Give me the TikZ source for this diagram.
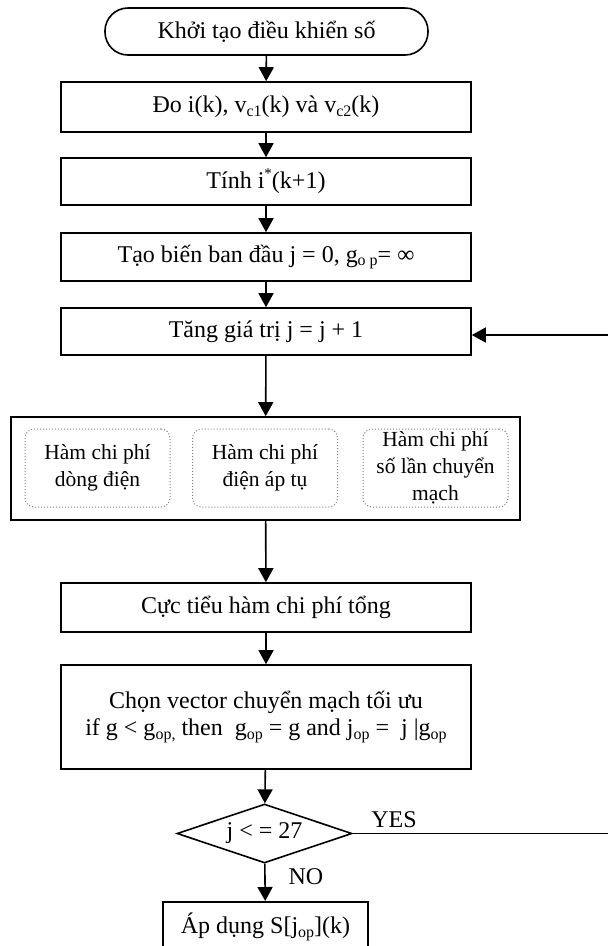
\documentclass[tikz,border=0pt]{standalone}
\usepackage{fontspec}
\setmainfont{Liberation Serif}
\usetikzlibrary{arrows.meta,shapes.geometric}
\newcommand{\mysub}[1]{\raisebox{-0.3ex}{\fontsize{16}{16}\selectfont #1}}
\newcommand{\mysup}[1]{\raisebox{0.9ex}{\fontsize{15}{15}\selectfont #1}}
\tikzset{
  every node/.style={font=\fontsize{24}{27}\selectfont, inner sep=0pt, align=center},
  procbox/.style={draw, line width=1.6pt, rectangle, minimum width=410pt},
  termbox/.style={draw, line width=1.6pt, rectangle, rounded corners=23pt, minimum width=323pt, minimum height=47pt},
  dotbox/.style={draw, gray, dotted, line width=1pt, rounded corners=9pt, minimum width=145pt, minimum height=78pt, text=black, font=\fontsize{21.5}{27}\selectfont},
  decbox/.style={draw, line width=1.6pt, diamond, aspect=2.97, minimum width=175pt, minimum height=59pt},
  flow/.style={line width=1.6pt, -{Triangle[length=14pt,width=15pt]}},
  lbl/.style={font=\fontsize{24}{27}\selectfont}
}
\begin{document}
\begin{tikzpicture}[x=1pt,y=-1pt]
\useasboundingbox (0,0) rectangle (608,946);
\node[termbox] (start) at (266.5,31.5) {Khởi tạo điều khiển số};
\node[procbox, minimum height=50pt] (b1) at (266,107) {Đo i(k), v\mysub{c1}(k) và v\mysub{c2}(k)};
\node[procbox, minimum height=47pt] (b2) at (266,181.5) {Tính i\mysup{*}(k+1)};
\node[procbox, minimum height=48pt] (b3) at (266,257) {Tạo biến ban đầu j = 0, g\mysub{o p}= ∞};
\node[procbox, minimum height=47pt] (b4) at (266,331.5) {Tăng giá trị j = j + 1};
\node[procbox, minimum width=509pt, minimum height=103pt] (big) at (265.5,468.5) {};
\node[dotbox] (d1) at (97.5,468) {Hàm chi phí\\dòng điện};
\node[dotbox] (d2) at (265,468) {Hàm chi phí\\điện áp tụ};
\node[dotbox] (d3) at (435.5,468) {Hàm chi phí\\số lần chuyển\\mạch};
\node[procbox, minimum height=49pt] (b5) at (266,607.5) {Cực tiểu hàm chi phí tổng};
\node[procbox, minimum height=104pt] (b6) at (266,717) {Chọn vector chuyển mạch tối ưu\\if g < g\mysub{op}\mysub{,} then\ \ g\mysub{op} = g and j\mysub{op} =\ \ j |g\mysub{op}};
\node[decbox] (dec) at (264.5,833.5) {j < = 27};
\node[procbox, minimum width=205pt, minimum height=50pt, anchor=north] (b7) at (265.5,901) {Áp dụng S[j\mysub{op}](k)};
\node[lbl] (yes) at (394,820) {YES};
\node[lbl] (no) at (306,877) {NO};
\coordinate (c1) at (610,833.5);
\coordinate (c2) at (610,335);
\draw[flow] (start) -- (b1);
\draw[flow] (b1) -- (b2);
\draw[flow] (b2) -- (b3);
\draw[flow] (b3) -- (b4);
\draw[flow] (b4) -- (big);
\draw[flow] (big) -- (b5);
\draw[flow] (b5) -- (b6);
\draw[flow] (b6) -- (dec);
\draw[flow] (dec) -- (b7);
\draw[flow] (dec.east) -- (c1) -- (c2) -- (b4.east |- c2);
\end{tikzpicture}
\end{document}
